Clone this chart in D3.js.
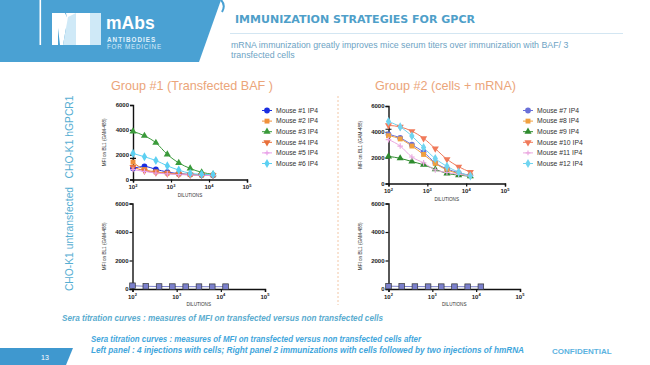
<!DOCTYPE html>
<html><head><meta charset="utf-8">
<script src="https://cdn.jsdelivr.net/npm/d3@7"></script>
<style>
html,body{margin:0;padding:0;background:#fff;}
svg{display:block;font-family:"Liberation Sans",Arial,sans-serif;}
</style></head>
<body><svg id="c" width="650" height="365"></svg>
<script>
// ---------- data ----------
const dilutions = [100, 200, 400, 800, 1600, 3200, 6400, 12800];
const xTickValues = [100, 1000, 10000, 100000];
const xTickExp = ["2", "3", "4", "5"];
const yTickValues = [0, 2000, 4000, 6000];

const group1Names = ["Mouse #1 IP4","Mouse #2 IP4","Mouse #3 IP4","Mouse #4 IP4","Mouse #5 IP4","Mouse #6 IP4"];
const mouse1 = [900, 1050, 820, 600, 470, 400, 360, 340];
const mouse2 = [1400, 800, 620, 520, 450, 400, 370, 350];
const mouse3 = [3870, 3520, 2960, 2020, 1340, 890, 580, 420];
const mouse4 = [1000, 700, 560, 480, 420, 380, 350, 330];
const mouse5 = [800, 650, 520, 450, 400, 370, 340, 320];
const mouse6 = [2100, 1830, 1530, 1100, 760, 500, 420, 400];

const group2Names = ["Mouse #7 IP4","Mouse #8 IP4","Mouse #9 IP4","Mouse #10 IP4","Mouse #11 IP4","Mouse #12 IP4"];
const mouse7 = [3800, 3530, 3000, 2430, 1600, 1130, 830, 630];
const mouse8 = [3700, 3450, 2900, 2250, 1550, 1050, 780, 600];
const mouse9 = [2100, 1950, 1700, 1450, 1100, 780, 650, 560];
const mouse10 = [4500, 4380, 4050, 3500, 2700, 1880, 1300, 880];
const mouse11 = [3400, 2900, 2050, 1600, 1050, 850, 700, 600];
const mouse12 = [4800, 4380, 3680, 2780, 1930, 1330, 880, 580];

const untransfectedLeft = [230, 190, 175, 170, 165, 165, 160, 165];
const untransfectedRight = [200, 180, 170, 165, 165, 165, 160, 160];
const errorCapTop = [1700, 4200];

const colors1 = ["#1a2ee0", "#f0903a", "#3a9a3a", "#e8703a", "#e8a0e8", "#5cd0f2"];
const colors2 = ["#6a70d8", "#f0a040", "#2e8b2e", "#f07a5a", "#eaa8e0", "#70d4f0"];
const shapes = ["circle", "square", "triangle", "triangleDown", "plus", "diamond"];

// ---------- helpers ----------
const svg = d3.select("#c");

function marker(g, shape, x, y, color, s) {
  s = s || 2.8;
  if (shape === "plus") {
    g.append("path").attr("d", `M${x-s},${y}H${x+s}M${x},${y-s}V${y+s}`)
      .attr("stroke", color).attr("stroke-width", 1.2).attr("fill", "none");
    return;
  }
  let type = d3.symbolCircle, rot = 0, size = 26;
  if (shape === "square") { type = d3.symbolSquare; size = 24; }
  if (shape === "triangle") { type = d3.symbolTriangle; size = 22; }
  if (shape === "triangleDown") { type = d3.symbolTriangle; size = 22; rot = 180; }
  if (shape === "diamond") { type = d3.symbolDiamond; size = 24; }
  g.append("path").attr("d", d3.symbol().type(type).size(size)())
    .attr("transform", `translate(${x},${y}) rotate(${rot})`)
    .attr("fill", color);
}

function panel(o) {
  const x = d3.scaleLog().domain([100, 100000]).range([o.x0, o.x1]);
  const y = d3.scaleLinear().domain([0, 6000]).range([o.y0, o.y1]);
  const g = svg.append("g");
  const ya = g.append("g").attr("transform", `translate(${o.x0},0)`)
    .call(d3.axisLeft(y).tickValues(yTickValues).tickSize(3).tickFormat(d3.format("d")));
  ya.select(".domain").attr("stroke", "#111").attr("stroke-width", 1.4);
  ya.selectAll(".tick line").attr("stroke", "#111").attr("stroke-width", 1.2);
  ya.selectAll(".tick text").attr("font-size", 6).attr("font-weight", "bold")
    .attr("fill", "#222").attr("font-family", "Liberation Sans, Arial, sans-serif").attr("x", -4);
  const xa = g.append("g").attr("transform", `translate(0,${o.y0})`)
    .call(d3.axisBottom(x).tickValues(xTickValues).tickSize(3).tickFormat(""));
  xa.select(".domain").attr("stroke", "#111").attr("stroke-width", 1.4);
  xa.selectAll(".tick line").attr("stroke", "#111").attr("stroke-width", 1.2);
  xTickValues.forEach((v, i) => {
    const t = g.append("text").attr("x", x(v)).attr("y", o.y0 + 9.5)
      .attr("text-anchor", "middle").attr("font-size", 6).attr("font-weight", "bold").attr("fill", "#222");
    t.append("tspan").text("10");
    t.append("tspan").text(xTickExp[i]).attr("font-size", 4).attr("dy", -2.5);
  });
  g.append("text").attr("x", (o.x0 + o.x1) / 2).attr("y", o.y0 + 17)
    .attr("text-anchor", "middle").attr("font-size", 4.6).attr("fill", "#333").text("DILUTIONS");
  g.append("text").attr("transform", `translate(${o.x0 - 27},${(o.y0 + o.y1) / 2}) rotate(-90)`)
    .attr("text-anchor", "middle").attr("font-size", 4.6).attr("fill", "#333").text("MFI on BL1 (GAM-488)");

  const line = d3.line().x((d, i) => x(dilutions[i])).y(d => y(d)).curve(d3.curveMonotoneX);
  o.series.forEach(s => {
    g.append("path").attr("d", line(s.values)).attr("fill", "none")
      .attr("stroke", s.color).attr("stroke-width", 1);
  });
  if (o.err != null) {
    const ex = x(dilutions[0]), ey = y(o.err);
    g.append("path").attr("d", `M${ex-3},${ey}H${ex+3}M${ex},${ey}V${y(o.errBase)}`)
      .attr("stroke", "#111").attr("stroke-width", 1.1);
  }
  o.series.forEach(s => {
    s.values.forEach((v, i) => {
      if (s.shape === "squareOutline") {
        g.append("rect").attr("x", x(dilutions[i]) - 2.8).attr("y", y(v) - 2.8)
          .attr("width", 5.6).attr("height", 5.6).attr("fill", s.color)
          .attr("stroke", "#333").attr("stroke-width", 0.7);
      } else {
        marker(g, s.shape, x(dilutions[i]), y(v), s.color);
      }
    });
  });
  if (o.legend) {
    o.legend.names.forEach((n, i) => {
      const ly = o.legend.y + i * 10.6;
      const lx = o.legend.x;
      g.append("line").attr("x1", lx - 5).attr("x2", lx + 5).attr("y1", ly).attr("y2", ly)
        .attr("stroke", o.legend.colors[i]).attr("stroke-width", 1);
      marker(g, shapes[i], lx, ly, o.legend.colors[i], 2.4);
      g.append("text").attr("x", lx + 9).attr("y", ly + 2.3).attr("font-size", 6.8)
        .attr("fill", "#333").text(n);
    });
  }
}

// ---------- slide decoration ----------
svg.append("path").attr("d", "M0,0H221L199,62H0Z").attr("fill", "#4aa1d3");
svg.append("path").attr("d", "M221,0 Q226,5 222,12").attr("stroke", "#4aa1d3").attr("stroke-width", 2).attr("fill", "none");
svg.append("rect").attr("x", 39.5).attr("y", 0).attr("width", 1.6).attr("height", 45).attr("fill", "#fff");
svg.append("path").attr("d", "M52,13H65L73,30L73,45H66V28L63,45H60L58,28V45H52Z").attr("fill", "#fff");
svg.append("path").attr("d", "M66,13H76V45H72Z").attr("fill", "#fff");
svg.append("path").attr("d", "M76,13H90V45H76Z").attr("fill", "#fff");
svg.append("path").attr("d", "M63,45L68,17L76,13V45Z").attr("fill", "#cfe9f7");
svg.append("rect").attr("x", 90).attr("y", 13).attr("width", 11).attr("height", 32).attr("fill", "#cfe9f7");
svg.append("text").attr("x", 106).attr("y", 28.5).attr("font-size", 17.5).attr("font-weight", "bold")
  .attr("fill", "#fff").text("mAbs");
svg.append("text").attr("x", 107).attr("y", 41.5).attr("font-size", 6.3).attr("font-weight", "bold")
  .attr("letter-spacing", 1.05).attr("fill", "#e3f3fc").text("ANTIBODIES");
svg.append("text").attr("x", 107).attr("y", 48.5).attr("font-size", 6.3)
  .attr("letter-spacing", 0.75).attr("fill", "#d5ecf9").text("FOR MEDICINE");

svg.append("text").attr("x", 235).attr("y", 22.5).attr("font-size", 11.2).attr("font-weight", "900")
  .attr("font-family", "DejaVu Sans, sans-serif")
  .attr("fill", "#4f9fc9").text("IMMUNIZATION STRATEGIES FOR GPCR")
  .attr("textLength", 240).attr("lengthAdjust", "spacingAndGlyphs");
svg.append("line").attr("x1", 230).attr("x2", 623).attr("y1", 33.5).attr("y2", 33.5)
  .attr("stroke", "#d3e6f2").attr("stroke-width", 1.2);
svg.append("text").attr("x", 231).attr("y", 47.5).attr("font-size", 8.8).attr("fill", "#6da3c4")
  .text("mRNA immunization greatly improves mice serum titers over immunization with BAF/ 3");
svg.append("text").attr("x", 231).attr("y", 57.5).attr("font-size", 8.8).attr("fill", "#6da3c4")
  .text("transfected cells");

svg.append("text").attr("x", 192).attr("y", 89.5).attr("text-anchor", "middle").attr("font-size", 12.6)
  .attr("fill", "#eba57a").text("Group #1 (Transfected BAF )");
svg.append("text").attr("x", 445.5).attr("y", 89.5).attr("text-anchor", "middle").attr("font-size", 12.6)
  .attr("fill", "#eba57a").text("Group #2 (cells + mRNA)");
svg.append("line").attr("x1", 338).attr("x2", 338).attr("y1", 96).attr("y2", 305)
  .attr("stroke", "#f2c7a6").attr("stroke-width", 1).attr("stroke-dasharray", "2,2");

svg.append("text").attr("transform", "translate(73,137) rotate(-90)").attr("text-anchor", "middle")
  .attr("font-size", 10.3).attr("fill", "#56aed2").text("CHO-K1 hGPCR1");
svg.append("text").attr("transform", "translate(73,239) rotate(-90)").attr("text-anchor", "middle")
  .attr("font-size", 10.3).attr("fill", "#56aed2").text("CHO-K1 untransfected");

// ---------- panels ----------
const g1 = [mouse1, mouse2, mouse3, mouse4, mouse5, mouse6];
const g2 = [mouse7, mouse8, mouse9, mouse10, mouse11, mouse12];
panel({
  x0: 133, x1: 247, y0: 179.5, y1: 105,
  series: g1.map((v, i) => ({ values: v, color: colors1[i], shape: shapes[i] })),
  err: errorCapTop[0], errBase: mouse2[0],
  legend: { x: 267, y: 110.5, names: group1Names, colors: colors1 }
});
panel({
  x0: 388.5, x1: 505, y0: 183.5, y1: 106,
  series: g2.map((v, i) => ({ values: v, color: colors2[i], shape: shapes[i] })),
  err: errorCapTop[1], errBase: mouse10[0],
  legend: { x: 528, y: 110.5, names: group2Names, colors: colors2 }
});
panel({
  x0: 132.5, x1: 265, y0: 289, y1: 203.5,
  series: [{ values: untransfectedLeft, color: "#7b80cc", shape: "squareOutline" }]
});
panel({
  x0: 388.5, x1: 520, y0: 289, y1: 203.5,
  series: [{ values: untransfectedRight, color: "#7b80cc", shape: "squareOutline" }]
});

// ---------- footer ----------
svg.append("text").attr("x", 62).attr("y", 321).attr("font-size", 8.4).attr("font-weight", "bold")
  .attr("font-style", "italic").attr("fill", "#5aaccf")
  .attr("textLength", 321).attr("lengthAdjust", "spacingAndGlyphs")
  .text("Sera titration curves : measures of MFI on transfected versus non transfected cells");
svg.append("text").attr("x", 91).attr("y", 341.5).attr("font-size", 8.6).attr("font-weight", "bold")
  .attr("font-style", "italic").attr("fill", "#3fa6dc")
  .attr("textLength", 330).attr("lengthAdjust", "spacingAndGlyphs")
  .text("Sera titration curves : measures of MFI on transfected versus non transfected cells after");
svg.append("text").attr("x", 91).attr("y", 353).attr("font-size", 8.6).attr("font-weight", "bold")
  .attr("font-style", "italic").attr("fill", "#3fa6dc")
  .attr("textLength", 433).attr("lengthAdjust", "spacingAndGlyphs")
  .text("Left panel : 4 injections with cells; Right panel 2 immunizations with cells followed by two injections of hmRNA");
svg.append("text").attr("x", 552).attr("y", 354).attr("font-size", 8).attr("font-weight", "bold")
  .attr("fill", "#5cb3df").text("CONFIDENTIAL");
svg.append("path").attr("d", "M0,348H73L66,365H0Z").attr("fill", "#3f98cf");
svg.append("text").attr("x", 45).attr("y", 360).attr("text-anchor", "middle").attr("font-size", 7)
  .attr("fill", "#fff").text("13");
</script></body></html>
